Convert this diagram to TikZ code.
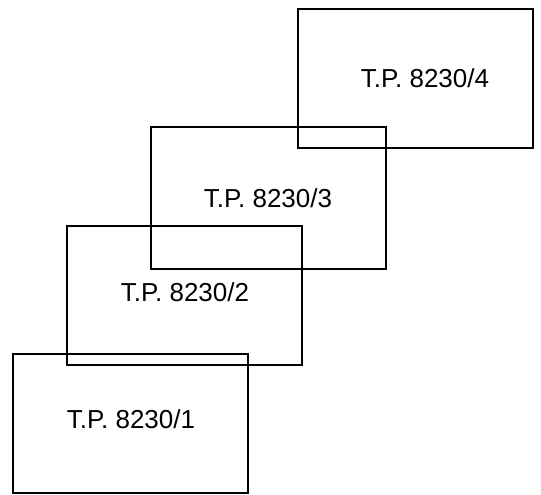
\documentclass[tikz,border=0pt]{standalone}
\usepackage{fontspec}
\setmainfont{Liberation Sans}
\begin{document}
\begin{tikzpicture}[x=1pt,y=-1pt,
  sheet/.style={draw=black,line width=1.6pt,rectangle,inner sep=0pt,minimum width=235pt,minimum height=139pt},
  lbl/.style={font=\fontsize{26}{31}\selectfont,inner sep=0pt,anchor=center}]
\useasboundingbox (0,0) rectangle (541,495);
\node[sheet,line width=2.2pt] (s4) at (415.5,78.5) {};
\node[sheet,minimum height=142pt] (s3) at (268.5,198) {};
\node[sheet] (s2) at (184.5,295.5) {};
\node[sheet,line width=1.9pt] (s1) at (130.5,423.5) {};
\node[lbl] (t4) at (425,78) {T.P. 8230/4};
\node[lbl] (t3) at (268,198) {T.P. 8230/3};
\node[lbl] (t2) at (185,292) {T.P. 8230/2};
\node[lbl] (t1) at (131,419) {T.P. 8230/1};
\end{tikzpicture}
\end{document}
